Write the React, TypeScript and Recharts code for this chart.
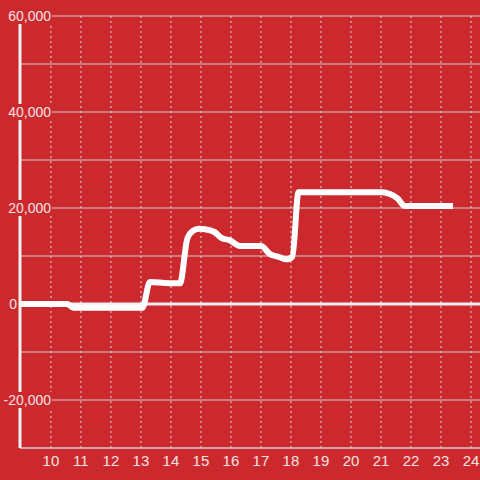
import { LineChart, Line, XAxis, YAxis, CartesianGrid, ReferenceLine } from 'recharts';

const xs = [8.95, 10.55, 10.75, 13.05, 13.3, 13.8, 14.3, 14.55, 14.75, 14.95, 15.1, 15.45, 15.7, 15.95, 16.3, 17.0, 17.3, 17.6, 17.85, 18.05, 18.25, 21.05, 21.3, 21.55, 21.8, 23.4];
const ys = [0, 0, -800, -800, 4600, 4400, 4300, 13700, 15300, 15700, 15600, 15000, 13700, 13300, 12100, 12100, 10400, 9800, 9300, 9900, 23300, 23300, 22900, 22000, 20400, 20400];

const xTicks = [10, 11, 12, 13, 14, 15, 16, 17, 18, 19, 20, 21, 22, 23, 24];
const yTicks = [-30000, -20000, -10000, 0, 10000, 20000, 30000, 40000, 50000, 60000];

const data = xs.map((x, i) => ({ x, v: ys[i] }));

const BG = '#cc292e';
const LABEL = '#f4e2e2';

const YTick = (props: any) => {
  const { y, payload } = props;
  const val = payload.value as number;
  if (val % 20000 !== 0) return <g />;
  const text = val.toLocaleString('en-US');
  const right = val === 0 ? 17 : 51;
  const w = text.length * 7.6;
  return (
    <g>
      <rect x={right - w - 1} y={y - 8} width={w + 2} height={16} fill={BG} />
      <text x={right} y={y + 5} textAnchor="end" fill={LABEL} fontSize={14} fontFamily="'Liberation Sans', Arial, sans-serif">
        {text}
      </text>
    </g>
  );
};

const XTick = (props: any) => {
  const { x, payload } = props;
  return (
    <text x={x} y={466} textAnchor="middle" fill={LABEL} fontSize={15} fontFamily="'Liberation Sans', Arial, sans-serif">
      {payload.value}
    </text>
  );
};

export default function App() {
  return (
    <div style={{ position: 'fixed', left: 0, top: 0, width: 480, height: 480, background: BG }}>
      <LineChart width={480} height={480} data={data} margin={{ top: 16, right: 0, bottom: 0, left: 0 }}>
        <CartesianGrid
          horizontal={false}
          vertical
          stroke="#dddddd"
          strokeDasharray="2 3"
          verticalValues={xTicks}
        />
        <CartesianGrid horizontal vertical={false} stroke="#cfcfcf" horizontalValues={yTicks} />
        <XAxis
          type="number"
          dataKey="x"
          domain={[8.97, 24.3]}
          ticks={xTicks}
          allowDataOverflow
          axisLine={{ stroke: '#cfcfcf', strokeWidth: 1 }}
          tickLine={false}
          tick={<XTick />}
          height={32}
        />
        <YAxis
          type="number"
          domain={[-30000, 60000]}
          ticks={yTicks}
          width={20}
          axisLine={{ stroke: '#f2f2f2', strokeWidth: 3 }}
          tickLine={false}
          tick={<YTick />}
        />
        <ReferenceLine y={0} stroke="#f2f2f2" strokeWidth={3} />
        <Line
          type="monotone"
          dataKey="v"
          stroke="#ffffff"
          strokeWidth={6}
          dot={false}
          isAnimationActive={false}
        />
      </LineChart>
    </div>
  );
}
